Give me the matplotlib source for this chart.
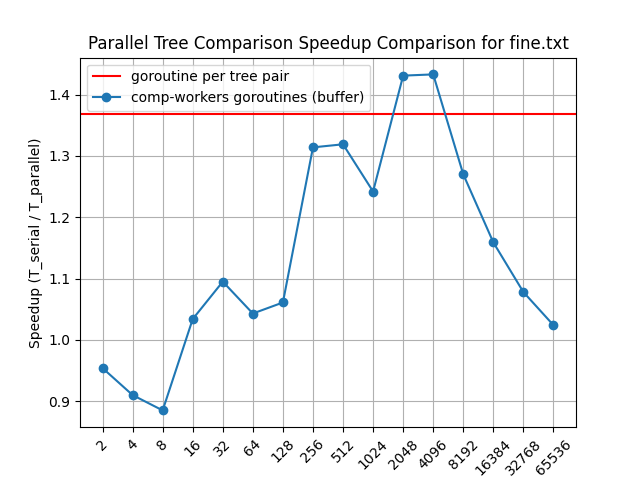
import matplotlib
matplotlib.use('Agg')
import matplotlib.pyplot as plt

workers = ['2', '4', '8', '16', '32', '64', '128', '256', '512', '1024',
           '2048', '4096', '8192', '16384', '32768', '65536']
speedup = [0.954, 0.910, 0.885, 1.034, 1.095, 1.043, 1.061, 1.314, 1.319,
           1.242, 1.431, 1.433, 1.270, 1.159, 1.078, 1.024]
per_pair = 1.369

fig, ax = plt.subplots(figsize=(6.4, 4.8), dpi=100)
ax.axhline(per_pair, color='red', label='goroutine per tree pair')
ax.plot(workers, speedup, marker='o', label='comp-workers goroutines (buffer)')
ax.set_title('Parallel Tree Comparison Speedup Comparison for fine.txt')
ax.set_ylabel('Speedup (T_serial / T_parallel)')
ax.tick_params(axis='x', rotation=45)
ax.grid(True)
ax.legend(loc='upper left')
fig.savefig('out.png')
